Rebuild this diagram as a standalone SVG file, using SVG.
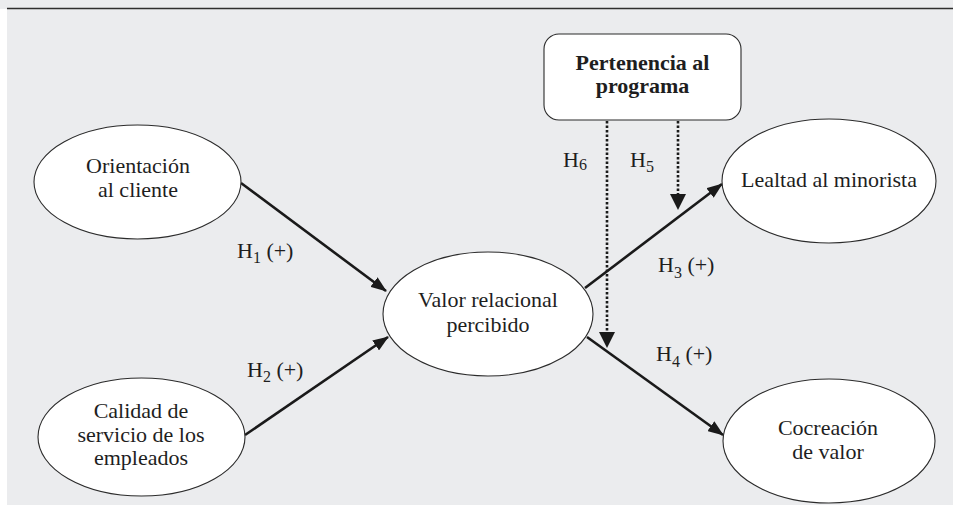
<svg xmlns="http://www.w3.org/2000/svg" width="953" height="507" viewBox="0 0 953 507">
  <style>
    .node { fill: #ffffff; stroke: #2b2b2b; stroke-width: 1.1; }
    .lbl { font-family: "Liberation Serif", "DejaVu Serif", serif; font-size: 22px; fill: #1e1e1e; text-anchor: middle; }
    .bold { font-weight: bold; }
    .hyp { font-family: "Liberation Serif", "DejaVu Serif", serif; font-size: 22px; fill: #1e1e1e; }
    .sub { font-size: 16px; }
    .edge { stroke: #1a1a1a; stroke-width: 2.6; fill: none; }
    .dot { stroke: #1a1a1a; stroke-width: 2.6; fill: none; stroke-dasharray: 2.5 2; }
  </style>
  <defs>
    <marker id="arrow" viewBox="0 0 16 12" refX="15" refY="6" markerWidth="16" markerHeight="12" markerUnits="userSpaceOnUse" orient="auto">
      <path d="M0,0 L16,6 L0,12 Z" fill="#1a1a1a"/>
    </marker>
  </defs>

  <!-- panel background and top rule -->
  <rect x="0" y="0" width="953" height="9" fill="#ebecee"/>
  <rect x="7" y="8" width="946" height="497" fill="#ebecee"/>
  <line x1="7" y1="8.5" x2="953" y2="8.5" stroke="#2e2e2e" stroke-width="1.6"/>

  <!-- connectors -->
  <g id="connectors">
    <line class="edge" x1="241" y1="183" x2="386" y2="291" marker-end="url(#arrow)"/>
    <line class="edge" x1="245" y1="435" x2="388" y2="337" marker-end="url(#arrow)"/>
    <line class="edge" x1="585" y1="288" x2="722" y2="184" marker-end="url(#arrow)"/>
    <line class="edge" x1="587" y1="337" x2="723" y2="435" marker-end="url(#arrow)"/>
    <line class="dot" x1="607" y1="121" x2="607" y2="333"/>
    <path d="M599,332 L615,332 L607,348 Z" fill="#1a1a1a"/>
    <line class="dot" x1="678" y1="121" x2="678" y2="195"/>
    <path d="M670,194 L686,194 L678,210 Z" fill="#1a1a1a"/>
  </g>

  <!-- hypothesis labels -->
  <g id="labels">
    <text class="hyp" x="237" y="258">H<tspan class="sub" dy="5">1</tspan><tspan dy="-5"> (+)</tspan></text>
    <text class="hyp" x="247" y="377">H<tspan class="sub" dy="5">2</tspan><tspan dy="-5"> (+)</tspan></text>
    <text class="hyp" x="658" y="272">H<tspan class="sub" dy="6">3</tspan><tspan dy="-6"> (+)</tspan></text>
    <text class="hyp" x="656" y="361">H<tspan class="sub" dy="6">4</tspan><tspan dy="-6"> (+)</tspan></text>
    <text class="hyp" x="630" y="167">H<tspan class="sub" dy="5">5</tspan></text>
    <text class="hyp" x="563" y="167">H<tspan class="sub" dy="3">6</tspan></text>
  </g>

  <g id="orientacion">
    <ellipse class="node" cx="137.5" cy="182" rx="103.5" ry="57"/>
    <text class="lbl" x="138" y="173">Orientación</text>
    <text class="lbl" x="138" y="197">al cliente</text>
  </g>

  <g id="calidad">
    <ellipse class="node" cx="141.5" cy="437" rx="103.5" ry="59"/>
    <text class="lbl" x="141" y="418">Calidad de</text>
    <text class="lbl" x="141" y="442">servicio de los</text>
    <text class="lbl" x="141" y="465">empleados</text>
  </g>

  <g id="valor">
    <ellipse class="node" cx="488" cy="314" rx="105" ry="62"/>
    <text class="lbl" x="488" y="307">Valor relacional</text>
    <text class="lbl" x="488" y="332">percibido</text>
  </g>

  <g id="pertenencia">
    <rect class="node" x="544" y="34" width="197" height="86" rx="15" ry="15"/>
    <text class="lbl bold" x="642.5" y="70">Pertenencia al</text>
    <text class="lbl bold" x="642.5" y="93">programa</text>
  </g>

  <g id="lealtad">
    <ellipse class="node" cx="829" cy="181" rx="107" ry="62"/>
    <text class="lbl" x="829" y="187">Lealtad al minorista</text>
  </g>

  <g id="cocreacion">
    <ellipse class="node" cx="829" cy="441" rx="106" ry="62"/>
    <text class="lbl" x="828" y="435">Cocreación</text>
    <text class="lbl" x="828" y="459">de valor</text>
  </g>
</svg>
